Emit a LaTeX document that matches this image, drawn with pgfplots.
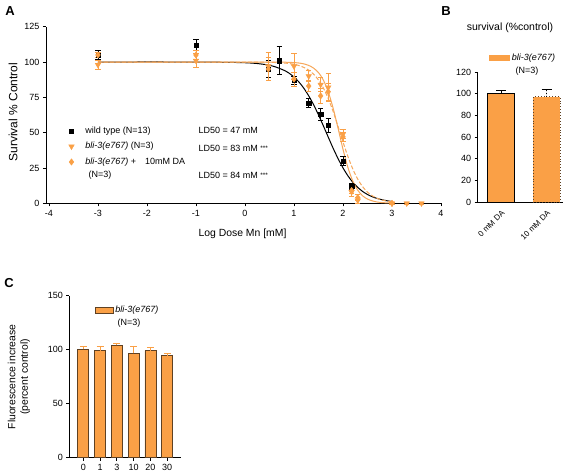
\documentclass[border=0pt]{standalone}
\usepackage{pgfplots}
\pgfplotsset{compat=1.18}
\usepackage{fontspec}
\setmainfont{Liberation Sans}
\definecolor{og}{RGB}{250,160,70}
\definecolor{ogl}{RGB}{246,168,92}
\definecolor{bd}{RGB}{95,65,35}
\pgfplotsset{
  gp/.style={scale only axis, axis x line=bottom, axis y line=left,
    axis line style={-, line width=0.9pt}, tick align=outside,
    major tick length=3pt, tick style={line width=0.8pt, black},
    tick label style={font=\fontsize{9}{10}\selectfont},
    /pgf/number format/assume math mode=true, clip=false},
}
\begin{document}
\begin{tikzpicture}[x=1pt,y=1pt]
\useasboundingbox (0,0) rectangle (563,-474);
% ---------------- Panel A
\begin{axis}[gp, at={(46pt,-203.3pt)}, anchor=south west,
  width=395pt, height=176.6pt, xmin=-4.06, xmax=4, ymin=0, ymax=125,
  xtick={-4,-3,-2,-1,0,1,2,3,4}, xticklabels={-4,-3,-2,-1,0,1,2,3,4},
  ytick={0,25,50,75,100,125},
  legend style={draw=none, fill=none, at={(0.057,0.445)}, anchor=north west,
    font=\fontsize{9}{10.5}\selectfont, row sep=3.5pt, inner sep=0pt,
    /tikz/every odd column/.append style={column sep=9pt}},
  legend cell align=left,
  error bars/error bar style={line width=0.8pt},
  error bars/error mark options={rotate=90, mark size=2.6pt, line width=0.8pt}]
\addplot[black, line width=1pt, smooth, forget plot] coordinates {
(-3,100) (-1,99.98) (0,99.5) (0.4,98.3) (0.6,96.8) (0.8,94.1) (0.9,92.1) (1.0,89.4) (1.1,85.9) (1.2,81.5) (1.3,76.1) (1.4,69.8) (1.5,62.6) (1.6,54.8) (1.7,46.8) (1.8,38.9) (1.9,31.6) (2.0,25.1) (2.1,19.5) (2.2,14.9) (2.3,11.3) (2.4,8.4) (2.5,6.25) (2.6,4.6) (2.7,3.4) (2.8,2.5) (2.9,1.8) (3.0,1.3)};
\addplot[ogl, line width=1pt, smooth, forget plot] coordinates {
(-3,100) (0,100) (0.6,99.96) (0.8,99.88) (1.0,99.6) (1.1,99.3) (1.2,98.7) (1.3,97.6) (1.4,95.7) (1.5,92.5) (1.6,87.2) (1.7,78.9) (1.8,67.2) (1.9,53.0) (2.0,38.3) (2.1,25.4) (2.2,15.8) (2.3,9.3) (2.4,5.3) (2.5,3.0) (2.6,1.7) (2.7,0.9) (2.8,0.5) (2.9,0.3) (3.0,0.15)};
\addplot[ogl, line width=1pt, smooth, dash pattern=on 4pt off 2pt, forget plot] coordinates {
(-3,100) (0,99.98) (0.5,99.8) (0.8,99.3) (1.0,98.4) (1.1,97.5) (1.2,96.2) (1.3,94.3) (1.4,91.4) (1.5,87.3) (1.6,81.6) (1.7,74.1) (1.8,64.9) (1.9,54.4) (2.0,43.5) (2.1,33.2) (2.2,24.3) (2.3,17.2) (2.4,11.8) (2.5,7.9) (2.6,5.3) (2.7,3.5) (2.8,2.3) (2.9,1.5) (3.0,1.0)};
% wild type
\addplot[black, only marks, mark=square*, mark size=2.1pt,
  error bars/.cd, y dir=both, y explicit] table[x=x, y=y, y error=e] {
x y e
-3 105 3
-1 112 4
0.477 95 6
0.699 101 10
1.0 87 3
1.301 71 3
1.544 63 4
1.699 55 5
2.0 30 3
2.176 12 2
};
\addlegendentry{wild type (N=13)}
% bli-3 triangles
\addplot[og, only marks, mark=triangle*, mark size=3.2pt, mark options={rotate=180},
  error bars/.cd, y dir=both, y explicit] table[x=x, y=y, y error=e] {
x y e
-3 98 3
-1 101 5
0.477 97 10
1.0 97 9
1.301 90 4
1.544 84 5
1.699 82 10
2.0 49 3
2.176 8 3
2.301 2 2
3.0 0 0.5
3.301 0 0.5
3.602 0 0.5
};
\addlegendentry{\textit{bli-3(e767)} (N=3)}
% bli-3 + DA diamonds
\addplot[og, only marks, mark=diamond*, mark size=3.2pt,
  error bars/.cd, y dir=both, y explicit] table[x=x, y=y, y error=e] {
x y e
-3 105 2
-1 105 3
0.477 95 8
1.0 88 5
1.301 83 4
1.544 76 5
1.699 79 6
2.0 47 3
2.176 9 2
2.301 4 2
3.0 0 0.5
};
\addlegendentry{\textit{bli-3(e767)} +\quad 10mM DA}
\end{axis}
\node[font=\fontsize{9}{10.5}\selectfont, anchor=west] at (195,-130.7) {LD50 = 47 mM};
\node[font=\fontsize{9}{10.5}\selectfont, anchor=west] at (195,-148) {LD50 = 83 mM \raisebox{1pt}{\fontsize{6.5}{6.5}\selectfont ***}};
\node[font=\fontsize{9}{10.5}\selectfont, anchor=west] at (195,-175) {LD50 = 84 mM \raisebox{1pt}{\fontsize{6.5}{6.5}\selectfont ***}};
\node[font=\fontsize{9}{10.5}\selectfont, anchor=west] at (85,-175) {(N=3)};
\node[font=\fontsize{12}{13}\selectfont, rotate=90] at (13,-112) {Survival \% Control};
\node[font=\fontsize{10.4}{12}\selectfont] at (242.5,-234) {Log Dose Mn [mM]};
\node[font=\bfseries\fontsize{13}{14}\selectfont] at (10,-11) {A};
% ---------------- Panel B
\begin{axis}[gp, at={(477.7pt,-202pt)}, anchor=south west,
  width=85.3pt, height=130pt, xmin=-0.512, xmax=1.356, ymin=0, ymax=120,
  ytick={0,20,40,60,80,100,120}, xtick={0,1}, xticklabels={0 mM DA,10 mM DA},
  xticklabel style={rotate=45, anchor=north east, font=\fontsize{8}{9}\selectfont},
  x tick style={draw=none},
  ybar, bar width=27pt, bar shift=0pt,
  legend style={draw=none, fill=none, at={(0.13,1.108)}, anchor=west,
    font=\fontsize{9}{10.5}\selectfont, inner sep=0pt},
  legend image code/.code={\path[#1, draw=none] (0pt,-2.8pt) rectangle (21pt,2.8pt);},
  error bars/error bar style={line width=0.9pt, black},
  error bars/error mark options={rotate=90, mark size=5pt, line width=0.9pt, black}]
\addplot[fill=og, draw=black, line width=0.9pt,
  error bars/.cd, y dir=plus, y explicit] coordinates {(0,100) +- (0,3.3)};
\addlegendentry{\textit{bli-3(e767)}}
\addplot[fill=og, draw=bd, line width=0.9pt, dotted,
  error bars/.cd, y dir=plus, y explicit] coordinates {(1,97) +- (0,7)};
\end{axis}
\node[font=\fontsize{9}{10.5}\selectfont] at (527,-71) {(N=3)};
\node[font=\fontsize{10.5}{12}\selectfont] at (510,-28) {survival (\%control)};
\node[font=\bfseries\fontsize{13}{14}\selectfont] at (446,-11) {B};
% ---------------- Panel C
\begin{axis}[gp, at={(69.3pt,-457.7pt)}, anchor=south west,
  width=111.7pt, height=162pt, xmin=-0.833, xmax=5.82, ymin=0, ymax=150,
  ytick={0,50,100,150}, xtick={0,1,2,3,4,5}, xticklabels={0,1,3,10,20,30},
  ybar, bar width=11pt, bar shift=0pt,
  legend style={draw=none, fill=none, at={(0.225,0.909)}, anchor=west,
    font=\fontsize{9}{10.5}\selectfont, inner sep=0pt},
  legend image code/.code={\draw[#1] (0pt,-2.8pt) rectangle (18pt,2.8pt);},
  error bars/error bar style={line width=0.9pt, og},
  error bars/error mark options={rotate=90, mark size=3.5pt, line width=0.9pt, og}]
\addplot[fill=og, draw=bd, line width=0.8pt,
  error bars/.cd, y dir=plus, y explicit] table[x=x, y=y, y error=e] {
x y e
0 100.5 2.3
1 99.1 3.7
2 104 2.2
3 96.5 6.6
4 99.1 3.1
5 94.5 2.1
};
\addlegendentry{\textit{bli-3(e767)}}
\end{axis}
\node[font=\fontsize{9}{10.5}\selectfont] at (129,-323) {(N=3)};
\node[font=\fontsize{10.4}{12.5}\selectfont, rotate=90, align=center] at (19,-377) {Fluorescence increase\\(percent control)};
\node[font=\bfseries\fontsize{13}{14}\selectfont] at (9,-283) {C};
\end{tikzpicture}
\end{document}
